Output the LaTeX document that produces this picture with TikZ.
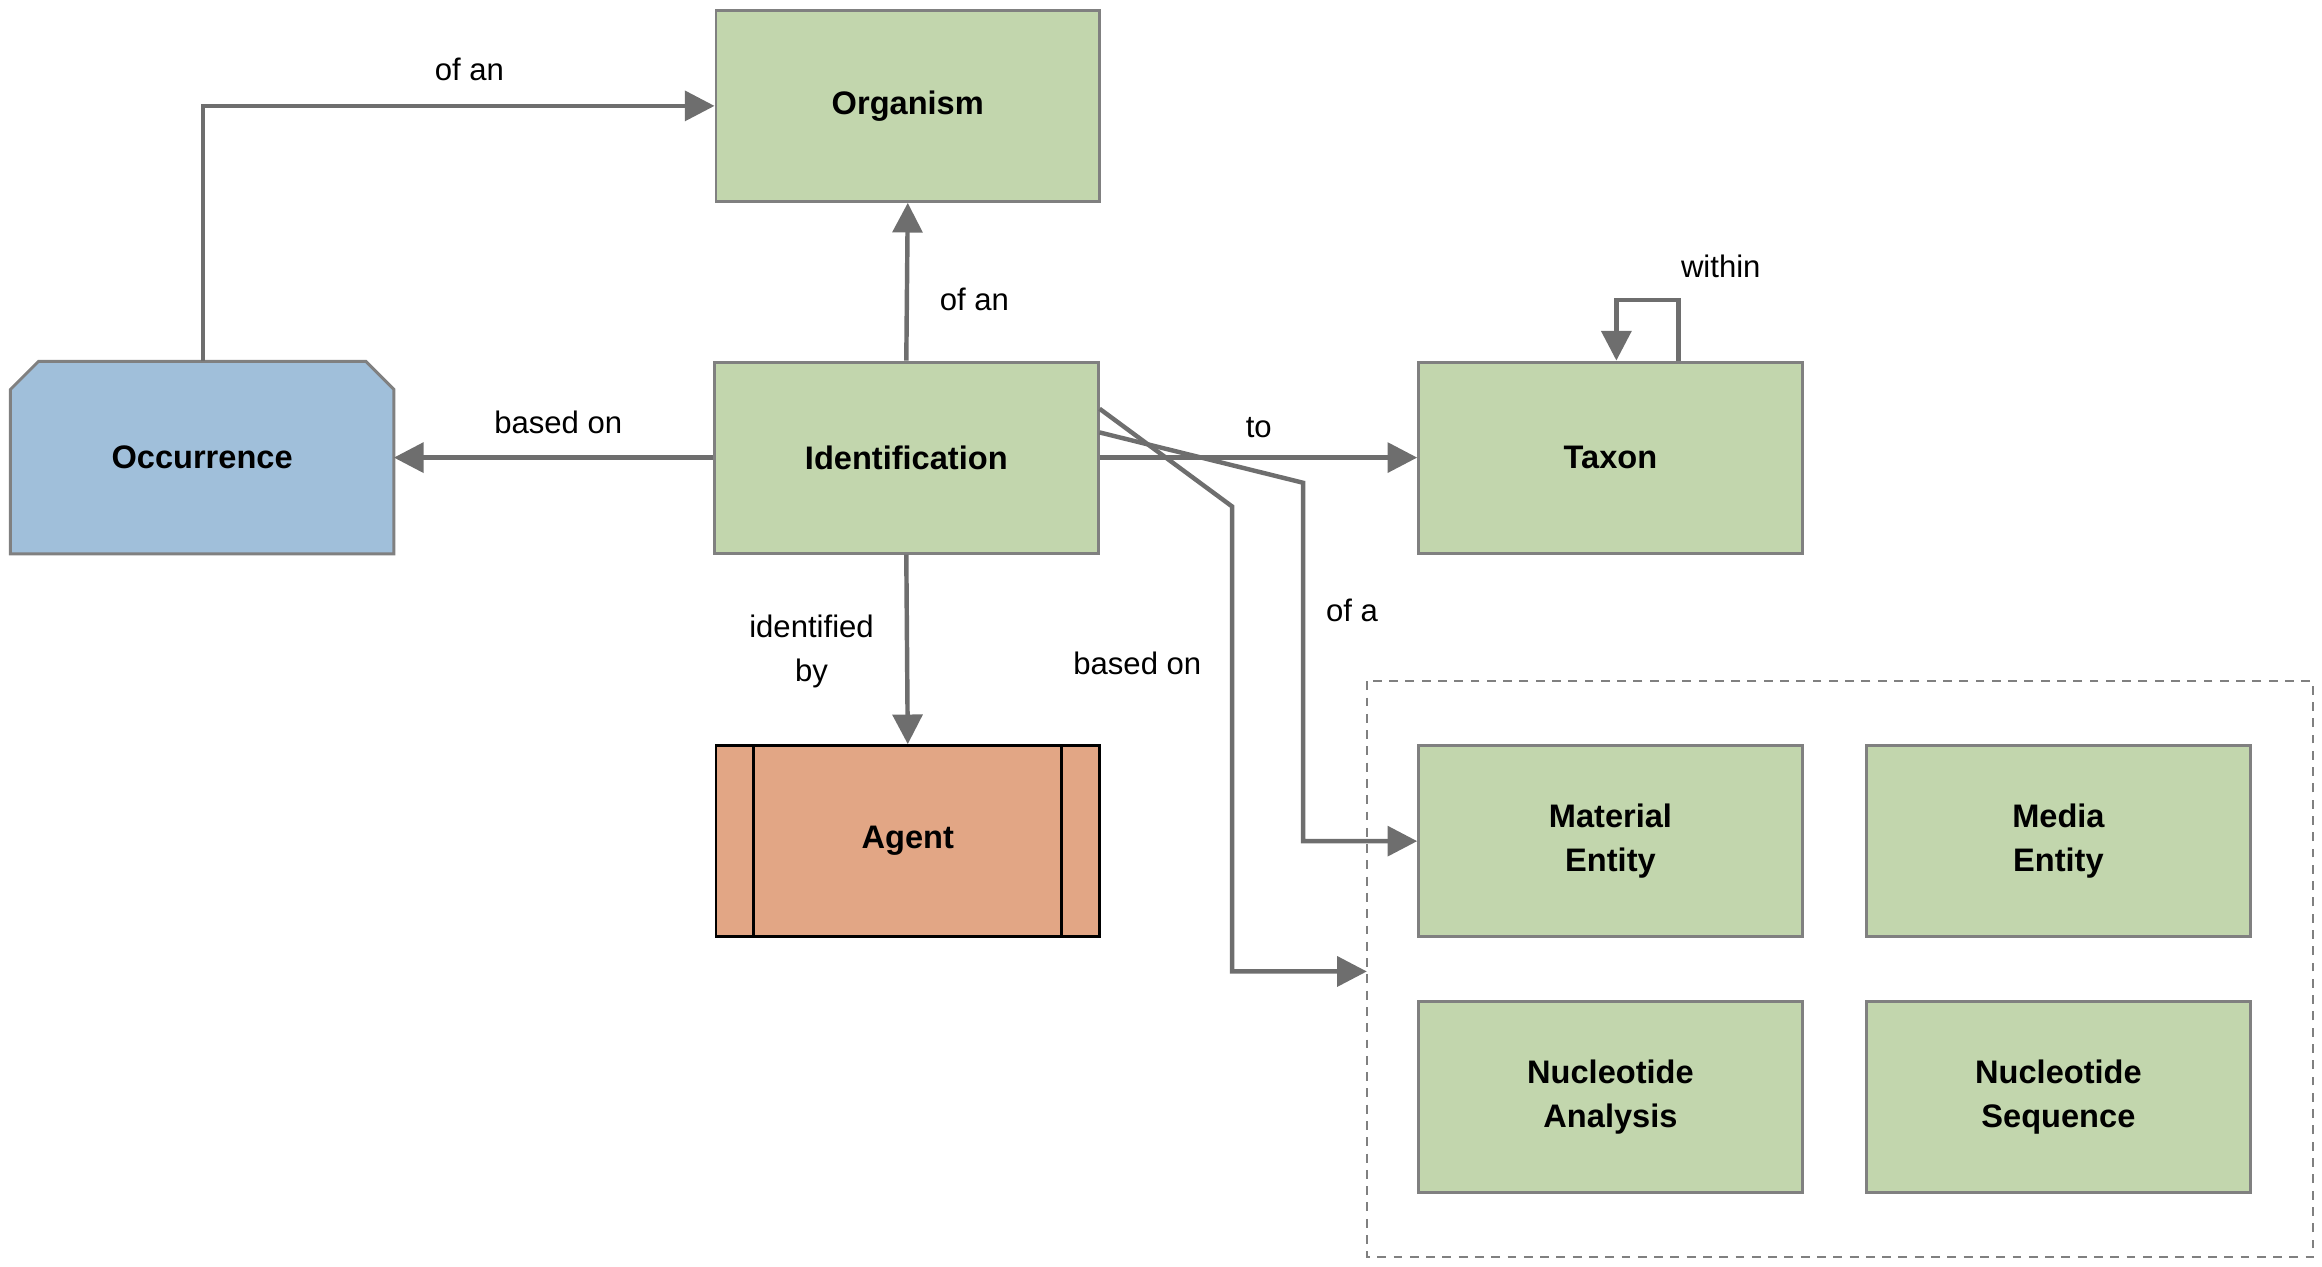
\documentclass[tikz,border=0pt]{standalone}
\usepackage{fontspec}
\setmainfont{Liberation Sans}
\usetikzlibrary{arrows.meta}
\definecolor{boxgreen}{HTML}{C2D6AD}
\definecolor{boxblue}{HTML}{A0BFDA}
\definecolor{boxsalmon}{HTML}{E2A685}
\definecolor{edgegray}{HTML}{6E6E6E}
\definecolor{bordergray}{HTML}{808080}
\begin{document}
\begin{tikzpicture}[x=1pt,y=-1pt,
  ent/.style={draw=bordergray,line width=2pt,fill=boxgreen,minimum width=259pt,minimum height=129pt,inner sep=0pt,align=center,font=\fontsize{22}{30}\selectfont\bfseries},
  conn/.style={draw=edgegray,line width=3pt,-{Triangle[length=20pt,width=20pt]}},
  lbl/.style={font=\fontsize{21}{30}\selectfont,align=center}]
\useasboundingbox (0,0) rectangle (1568,855);
% dashed group
\draw[bordergray,line width=1.5pt,dash pattern=on 6pt off 5pt] (923,460) rectangle (1562,849);
\node[ent] (org) at (613,71.5) {Organism};
\node[ent] (ident) at (612,309) {Identification};
\node[ent] (taxon) at (1087.5,309) {Taxon};
\node[ent] (mat) at (1087.5,568) {Material\\Entity};
\node[ent] (med) at (1390,568) {Media\\Entity};
\node[ent] (nan) at (1087.5,741) {Nucleotide\\Analysis};
\node[ent] (nse) at (1390,741) {Nucleotide\\Sequence};
\coordinate (grp) at (923,656);
% occurrence
\draw[bordergray,line width=2pt,fill=boxblue] (7,374) -- (7,263) -- (26,244) -- (247,244) -- (266,263) -- (266,374) -- cycle;
\node[font=\fontsize{22}{30}\selectfont\bfseries] (occ) at (136.5,309) {Occurrence};
\coordinate (occR) at (266,309);
\coordinate (occT) at (137,244);
% agent
\node[draw=black,line width=2pt,fill=boxsalmon,minimum width=259pt,minimum height=129pt,inner sep=0pt,font=\fontsize{22}{30}\selectfont\bfseries] (agent) at (613,568) {Agent};
\draw[black,line width=2pt] (509,503) -- (509,633) (717,503) -- (717,633);
% connectors
\draw[conn] (occT) |- (org.west);
\node[lbl] at (317,47) {of an};
\draw[conn] (ident.north) -- (org.south);
\node[lbl] at (658,202) {of an};
\draw[conn] (ident.west) -- (occR);
\node[lbl] at (377,285) {based on};
\draw[conn] (ident.east) -- (taxon.west);
\node[lbl] at (850,289) {to};
\draw[conn] ([xshift=46pt]taxon.north) -- ++(0,-41) -| ([xshift=4pt]taxon.north);
\node[lbl] at (1162,180) {within};
\draw[conn] ([yshift=17pt]ident.east) -- (880,326) |- (mat.west);
\node[lbl] at (913,412) {of a};
\draw[conn] ([yshift=33pt]ident.east) -- (832,342) |- (grp);
\node[lbl] at (768,448) {based on};
\draw[conn] (ident.south) -- (agent.north);
\node[lbl] at (548,440) {identified\\by};
\end{tikzpicture}
\end{document}
